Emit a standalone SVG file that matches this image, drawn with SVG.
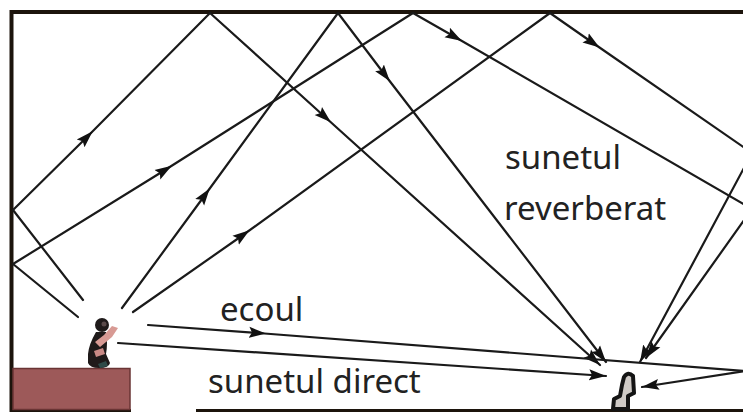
<svg xmlns="http://www.w3.org/2000/svg" width="743" height="412" viewBox="0 0 743 412">
  <style>
    .wall { stroke: #1c140c; stroke-width: 4; fill: none; }
    .ray { stroke: #1a1a1a; stroke-width: 2.2; fill: none; stroke-linecap: round; }
    .mid { marker-mid: url(#arrowMid); }
    .end { marker-end: url(#arrowEnd); }
    .label { font-family: "Noto Sans", "Open Sans", sans-serif; font-size: 33px; fill: #222222; }
  </style>
  <defs>
    <marker id="arrowMid" markerUnits="userSpaceOnUse" markerWidth="20" markerHeight="14" viewBox="0 -7 20 14" refX="9" refY="0" orient="auto">
      <path d="M0,-5.5 L17,0 L0,5.5 L3,0 z" fill="#111"/>
    </marker>
    <marker id="arrowEnd" markerUnits="userSpaceOnUse" markerWidth="20" markerHeight="14" viewBox="0 -7 20 14" refX="17" refY="0" orient="auto">
      <path d="M0,-5.5 L17,0 L0,5.5 L3,0 z" fill="#111"/>
    </marker>
  </defs>

  <rect width="743" height="412" fill="#ffffff"/>

  <!-- room: ceiling, back wall, floor -->
  <g id="room">
    <path class="wall" d="M11.5,412 L11.5,12 L743,12"/>
    <path d="M196,410.5 L743,410.5" stroke="#1c140c" stroke-width="3"/>
    <path d="M11.5,410.5 L131,410.5" stroke="#1c140c" stroke-width="3"/>
  </g>

  <!-- stage -->
  <g id="stage">
    <rect x="13" y="368.5" width="117" height="41" fill="#9d5959" stroke="#6a3434" stroke-width="1.5"/>
  </g>

  <!-- speaker -->
  <g id="speaker">
    <path d="M96,332 Q89,344 88,354 L88,363 Q90,368 99,368 Q109,368 110,363 L106,354 Q108,343 106,332 Z" fill="#1f1a1a"/>
    <circle cx="102" cy="325" r="7" fill="#1f1a1a"/>
    <circle cx="104" cy="324" r="2.5" fill="#5a4a4a"/>
    <path d="M95,342 L104,335 L112,326 L118,328 L112,337 L100,347 Z" fill="#d89a94"/>
    <path d="M94,351 L103,348 L105,354 L96,357 Z" fill="#c98a86"/>
    <path d="M98,364 L106,361 L108,366 L100,368 Z" fill="#2e4a48"/>
  </g>

  <!-- listener -->
  <g id="listener">
    <path d="M624,377 Q628,371 633,376 L634,393 L628,396 L628,409 L613,409 L614,399 L620,396 L622,385 Z" fill="#cfcac6" stroke="#141414" stroke-width="4" stroke-linejoin="round"/>
  </g>

  <!-- sound paths -->
  <g id="connectors">
    <!-- first reflection off the back wall, then ceiling -->
    <path class="ray" d="M83,300 L13,210"/>
    <path class="ray mid" d="M13,210 L87,137 L210,13"/>
    <path class="ray mid end" d="M210,13 L325,117 L600,365"/>

    <path class="ray" d="M78,317 L13,264"/>
    <path class="ray mid" d="M13,264 L165,170 L413,13"/>
    <path class="ray mid" d="M413,13 L455,37 L752,209"/>
    <path class="ray end" d="M752,209 L646,358"/>

    <!-- ceiling reflections -->
    <path class="ray mid" d="M122,308 L205,195 L338,13"/>
    <path class="ray mid end" d="M338,13 L385,75 L606,362"/>

    <path class="ray mid" d="M133,312 L243,235 L550,13"/>
    <path class="ray mid" d="M550,13 L593,43 L752,153"/>
    <path class="ray end" d="M752,153 L640,362"/>

    <!-- echo -->
    <path class="ray mid" d="M148,325 L258,333 L745,371"/>
    <path class="ray end" d="M745,371 L642,387"/>

    <!-- direct sound -->
    <path class="ray end" d="M118,343 L606,376"/>
  </g>

  <g id="labels">
    <text class="label" x="505" y="169">sunetul</text>
    <text class="label" x="504" y="220">reverberat</text>
    <text class="label" x="220" y="321">ecoul</text>
    <text class="label" x="208" y="393">sunetul direct</text>
  </g>
</svg>
